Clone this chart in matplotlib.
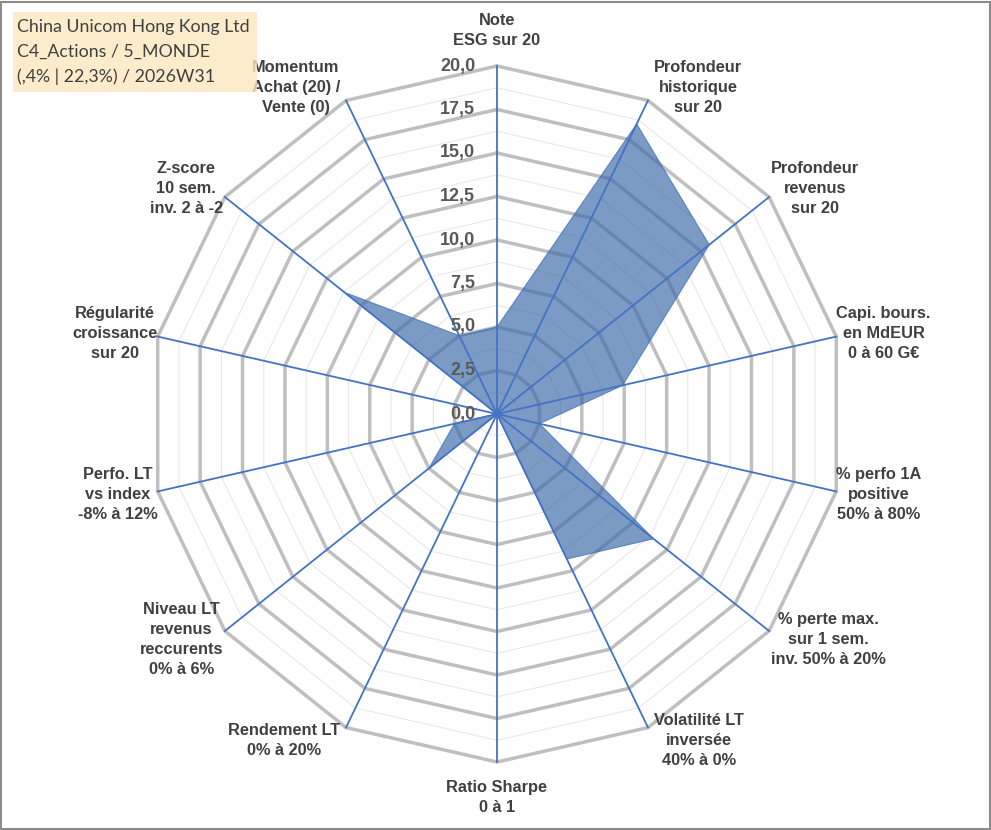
import matplotlib
matplotlib.use("Agg")
import matplotlib.pyplot as plt
import numpy as np
from matplotlib.patches import Rectangle

# axis labels, clockwise from the top
AXES = [
    "Note\nESG sur 20",
    "Profondeur\nhistorique\nsur 20",
    "Profondeur\nrevenus\nsur 20",
    "Capi. bours.\nen MdEUR\n0 à 60 G€",
    "% perfo 1A\npositive\n50% à 80%",
    "% perte max.\nsur 1 sem.\ninv. 50% à 20%",
    "Volatilité LT\ninversée\n40% à 0%",
    "Ratio Sharpe\n0 à 1",
    "Rendement LT\n0% à 20%",
    "Niveau LT\nrevenus\nreccurents\n0% à 6%",
    "Perfo. LT\nvs index\n-8% à 12%",
    "Régularité\ncroissance\nsur 20",
    "Z-score\n10 sem.\ninv. 2 à -2",
    "Momentum\nAchat (20) /\nVente (0)",
]
SCORES = [5.0, 18.5, 15.6, 7.4, 2.5, 11.5, 9.25, 0.0, 0.0, 5.0, 2.5, 0.0, 11.2, 5.0]
TICKS = [0.0, 2.5, 5.0, 7.5, 10.0, 12.5, 15.0, 17.5, 20.0]
RMAX = 20.0
TITLE = ["China Unicom Hong Kong Ltd", "C4_Actions / 5_MONDE", "(,4% | 22,3%) / 2026W31"]

TXT = "#404040"
GRID = "#BFBFBF"
BLUE = "#4472C4"

W, H = 991, 830
cx, cy = 497, 416          # centre of the web, pixels from bottom-left
px = 348 / RMAX            # pixels per score unit

n = len(AXES)
theta = np.arange(n) * 2 * np.pi / n
s, c = np.sin(theta), np.cos(theta)

fig = plt.figure(figsize=(W / 100, H / 100), dpi=100)
ax = fig.add_axes([0, 0, 1, 1])
ax.set_xlim(-cx / px, (W - cx) / px)
ax.set_ylim(-cy / px, (H - cy) / px)
ax.axis("off")

# polygon rings: thick every 2.5, thin in between
for r in np.arange(1.25, RMAX + 0.01, 1.25):
    major = abs(r / 2.5 - round(r / 2.5)) < 1e-6
    xs = np.append(r * s, r * s[0])
    ys = np.append(r * c, r * c[0])
    ax.plot(xs, ys, color=GRID if major else "#E8E8E8",
            lw=2.5 if major else 0.8, zorder=1, solid_joinstyle="miter")

# data area
vals = np.array(SCORES)
ax.fill(vals * s, vals * c, color="#3C6BA8", alpha=0.68, lw=0, zorder=2)
ax.plot(np.append(vals * s, vals[0] * s[0]), np.append(vals * c, vals[0] * c[0]),
        color=BLUE, lw=0.8, alpha=0.8, zorder=2)

# spokes
for i in range(n):
    ax.plot([0, RMAX * s[i]], [0, RMAX * c[i]], color=BLUE, lw=1.3, zorder=3)

# radial scale
for t in TICKS:
    ax.text(-1.25, t, f"{t:.1f}".replace(".", ","), ha="right", va="center",
            fontsize=13, fontweight="bold", color="#595959",
            family="Liberation Sans", zorder=4)

# axis labels
for i, lab in enumerate(AXES):
    if abs(s[i]) < 0.05:
        ha, va = "center", ("bottom" if c[i] > 0 else "top")
        off = (0, 18 * np.sign(c[i]))
    else:
        ha, va = ("left" if s[i] > 0 else "right"), "center"
        off = (np.sign(s[i]) * 8 * abs(c[i]) ** 3, 14 * c[i])
    ax.annotate(lab, (RMAX * s[i], RMAX * c[i]), xytext=off, textcoords="offset pixels",
                ha=ha, va=va, multialignment="center", linespacing=1.42,
                fontsize=11.8, fontweight="bold", color=TXT, family="Liberation Sans")

# title box (slightly see-through, it sits over the Momentum label)
fig.patches.append(Rectangle((13 / W, 1 - 92 / H), 244 / W, 80 / H, transform=fig.transFigure,
                             facecolor="#FDE8C0", alpha=0.8, edgecolor="none", zorder=5))
for k, line in enumerate(TITLE):
    fig.text(17 / W, 1 - (27 + 25 * k) / H, line, ha="left", va="center",
             fontsize=12.8, color=TXT, family="Lato", zorder=6)

# frame
fig.patches.append(Rectangle((0.001, 0.001), 0.998, 0.997, transform=fig.transFigure,
                             facecolor="none", edgecolor="#8C8C8C", lw=1.5))

fig.savefig("out.png", dpi=100, facecolor="white")
